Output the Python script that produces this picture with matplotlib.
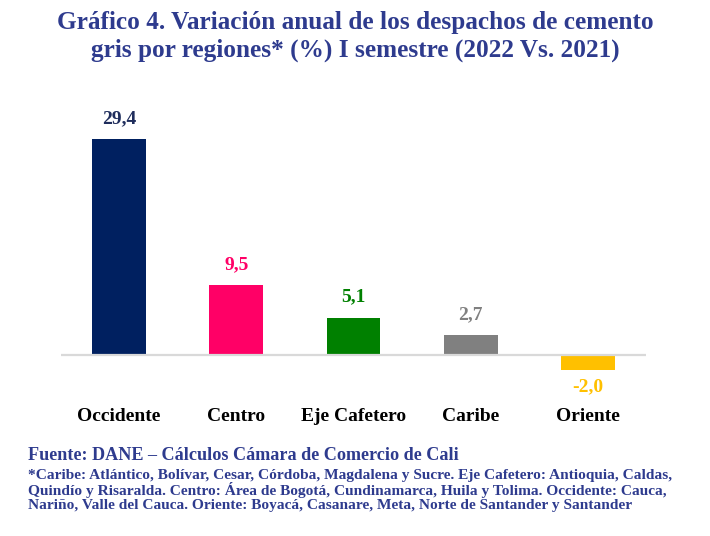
import matplotlib
matplotlib.use("Agg")
import matplotlib.pyplot as plt

# Data
regiones = ['Occidente', 'Centro', 'Eje Cafetero', 'Caribe', 'Oriente']
variacion = [29.4, 9.5, 5.1, 2.7, -2.0]
colores = ['#002060', '#FF0066', '#008000', '#808080', '#FFC000']
colores_txt = ['#1F2D5C', '#FF0066', '#008000', '#808080', '#FFC000']

titulo = ['Gráfico 4. Variación anual de los despachos de cemento',
          'gris por regiones* (%) I semestre (2022 Vs. 2021)']
fuente = 'Fuente: DANE – Cálculos Cámara de Comercio de Cali'
nota = ['*Caribe: Atlántico, Bolívar, Cesar, Córdoba, Magdalena y Sucre. Eje Cafetero: Antioquia, Caldas,',
        'Quindío y Risaralda. Centro: Área de Bogotá, Cundinamarca, Huila y Tolima. Occidente: Cauca,',
        'Nariño, Valle del Cauca. Oriente: Boyacá, Casanare, Meta, Norte de Santander y Santander']

plt.rcParams['font.family'] = ['Liberation Serif', 'DejaVu Serif']
azul = '#2E3B8E'

W, H = 710, 536
fig = plt.figure(figsize=(W / 100, H / 100), dpi=100)
ax = fig.add_axes([0.0859, 0.291, 0.824, 0.522])

x = range(len(regiones))
ax.bar(x, variacion, width=0.46, color=colores, zorder=2)
ax.axhline(0, color='#d9d9d9', lw=1.6, zorder=3)

for i, v in enumerate(variacion):
    txt = f'{v:.1f}'.replace('.', ',')
    dy = 11.7 if v >= 0 else -15.8
    ax.annotate(txt, (i, v), xytext=(0, dy), textcoords='offset points',
                ha='center', va='baseline', fontsize=14, fontweight='bold',
                color=colores_txt[i])

ax.set_xlim(-0.495, 4.495)
ax.set_ylim(-3.4, 34.7)
ax.set_xticks(list(x))
ax.set_xticklabels(regiones, fontsize=14, fontweight='bold', color='black')
ax.tick_params(axis='x', length=0, pad=20)
ax.set_yticks([])
for s in ax.spines.values():
    s.set_visible(False)

# title, two centred lines
for yc, linea in zip([23, 50], titulo):
    fig.text(355 / W, 1 - yc / H, linea, ha='center', va='center',
             fontsize=18.2, fontweight='bold', color=azul)

fig.text(28 / W, 1 - 456 / H, fuente, ha='left', va='center', fontsize=13.1,
         fontweight='bold', color=azul)
for yc, linea in zip([475, 490.5, 506], nota):
    fig.text(28 / W, 1 - yc / H, linea, ha='left', va='center', fontsize=11.1,
             fontweight='bold', color=azul)

fig.savefig('out.png', dpi=100)
